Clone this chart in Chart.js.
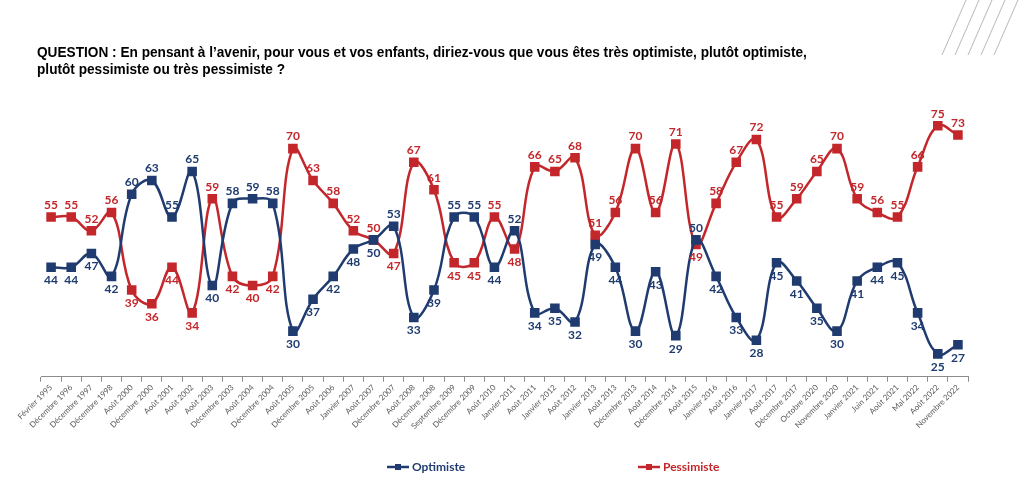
<!DOCTYPE html>
<html>
<head>
<meta charset="utf-8">
<script src="https://cdn.jsdelivr.net/npm/chart.js@4"></script>
<style>
  html, body { margin: 0; padding: 0; background: #fff; }
  #wrap { position: relative; width: 1024px; height: 492px; }
  #question {
    position: absolute; left: 37px; top: 43px; z-index: 2;
    font: bold 15px 'Liberation Sans', Arial, sans-serif;
    line-height: 17px; color: #000; white-space: nowrap;
    transform: scaleX(0.91); transform-origin: 0 0;
  }
</style>
</head>
<body>
<div id="wrap">
  <div id="question">QUESTION : En pensant à l’avenir, pour vous et vos enfants, diriez-vous que vous êtes très optimiste, plutôt optimiste,<br>plutôt pessimiste ou très pessimiste ?</div>
  <canvas id="trendChart"></canvas>
</div>
<script>
const waves = [
  'Février 1995', 'Décembre 1996', 'Décembre 1997', 'Décembre 1998', 'Août 2000', 'Décembre 2000',
  'Août 2001', 'Août 2002', 'Août 2003', 'Décembre 2003', 'Août 2004', 'Décembre 2004',
  'Août 2005', 'Décembre 2005', 'Août 2006', 'Janvier 2007', 'Août 2007', 'Décembre 2007',
  'Août 2008', 'Décembre 2008', 'Septembre 2009', 'Décembre 2009', 'Août 2010', 'Janvier 2011',
  'Août 2011', 'Janvier 2012', 'Août 2012', 'Janvier 2013', 'Août 2013', 'Décembre 2013',
  'Août 2014', 'Décembre 2014', 'Août 2015', 'Janvier 2016', 'Août 2016', 'Janvier 2017',
  'Août 2017', 'Décembre 2017', 'Octobre 2020', 'Novembre 2020', 'Janvier 2021', 'Juin 2021',
  'Août 2021', 'Mai 2022', 'Août 2022', 'Novembre 2022'
];

const optimiste = [
  44, 44, 47, 42, 60, 63, 55, 65, 40, 58, 59, 58, 30, 37, 42, 48, 50, 53, 33, 39, 55, 55, 44,
  52, 34, 35, 32, 49, 44, 30, 43, 29, 50, 42, 33, 28, 45, 41, 35, 30, 41, 44, 45, 34, 25, 27
];

const pessimiste = [
  55, 55, 52, 56, 39, 36, 44, 34, 59, 42, 40, 42, 70, 63, 58, 52, 50, 47, 67, 61, 45, 45, 55,
  48, 66, 65, 68, 51, 56, 70, 56, 71, 49, 58, 67, 72, 55, 59, 65, 70, 59, 56, 55, 66, 75, 73
];

const BLUE = '#1f3b6f';
const RED = '#c3272b';

// value labels: the higher series gets its label above, the lower one below
const valueLabels = {
  id: 'valueLabels',
  afterDatasetsDraw(chart) {
    const ctx = chart.ctx;
    const sets = chart.data.datasets;
    ctx.save();
    ctx.font = 'bold 12px Lato, sans-serif';
    ctx.textAlign = 'center';
    sets.forEach((ds, i) => {
      const other = sets[1 - i].data;
      chart.getDatasetMeta(i).data.forEach((pt, j) => {
        const v = ds.data[j];
        const above = v > other[j] || (v === other[j] && i === 1);
        ctx.fillStyle = ds.borderColor;
        ctx.textBaseline = above ? 'bottom' : 'top';
        ctx.fillText(v, pt.x, above ? pt.y - 6 : pt.y + 7);
      });
    });
    ctx.restore();
  }
};

// legend: small line with a square marker, then the series name
const lineLegend = {
  id: 'lineLegend',
  afterDraw(chart) {
    const ctx = chart.ctx;
    const y = 467;
    const spots = [398, 649];
    ctx.save();
    ctx.font = 'bold 12px Lato, sans-serif';
    ctx.textBaseline = 'middle';
    chart.data.datasets.forEach((ds, i) => {
      const cx = spots[i];
      ctx.strokeStyle = ds.borderColor;
      ctx.fillStyle = ds.borderColor;
      ctx.lineWidth = 2.5;
      ctx.beginPath();
      ctx.moveTo(cx - 11, y);
      ctx.lineTo(cx + 11, y);
      ctx.stroke();
      ctx.fillRect(cx - 3, y - 3, 6, 6);
      ctx.textAlign = 'left';
      ctx.fillText(ds.label, cx + 14, y);
    });
    ctx.restore();
  }
};

// the thin diagonal strokes in the top right corner
const cornerStripes = {
  id: 'cornerStripes',
  beforeDraw(chart) {
    const ctx = chart.ctx;
    ctx.save();
    ctx.strokeStyle = '#b8b8b8';
    ctx.lineWidth = 1;
    for (let k = 0; k < 5; k++) {
      ctx.beginPath();
      ctx.moveTo(942 + k * 13, 55);
      ctx.lineTo(966 + k * 13, 0);
      ctx.stroke();
    }
    ctx.restore();
  }
};

const ctx = document.getElementById('trendChart').getContext('2d');

const chart = new Chart(ctx, {
  type: 'line',
  data: {
    labels: waves,
    datasets: [{
      label: 'Optimiste',
      data: optimiste,
      borderColor: BLUE,
      backgroundColor: BLUE,
      borderWidth: 2.5,
      pointStyle: 'rect',
      pointRadius: 5,
      tension: 0.4
    }, {
      label: 'Pessimiste',
      data: pessimiste,
      borderColor: RED,
      backgroundColor: RED,
      borderWidth: 2.5,
      pointStyle: 'rect',
      pointRadius: 5,
      tension: 0.4
    }]
  },
  options: {
    responsive: true,
    maintainAspectRatio: false,
    animation: false,
    layout: { padding: { left: 41, right: 56, top: 103, bottom: 60 } },
    plugins: {
      legend: { display: false },
      tooltip: { enabled: false }
    },
    scales: {
      x: {
        offset: true,
        grid: { offset: true, drawOnChartArea: false, drawTicks: true, tickLength: 5, color: '#8c8c8c' },
        border: { color: '#8c8c8c', width: 1 },
        ticks: {
          autoSkip: false, maxRotation: 45, minRotation: 45, padding: 1,
          font: { family: 'Lato', size: 8 }, color: '#595959'
        }
      },
      y: { display: false, min: 20, max: 80 }
    }
  },
  plugins: [cornerStripes, valueLabels, lineLegend]
});
</script>
</body>
</html>
